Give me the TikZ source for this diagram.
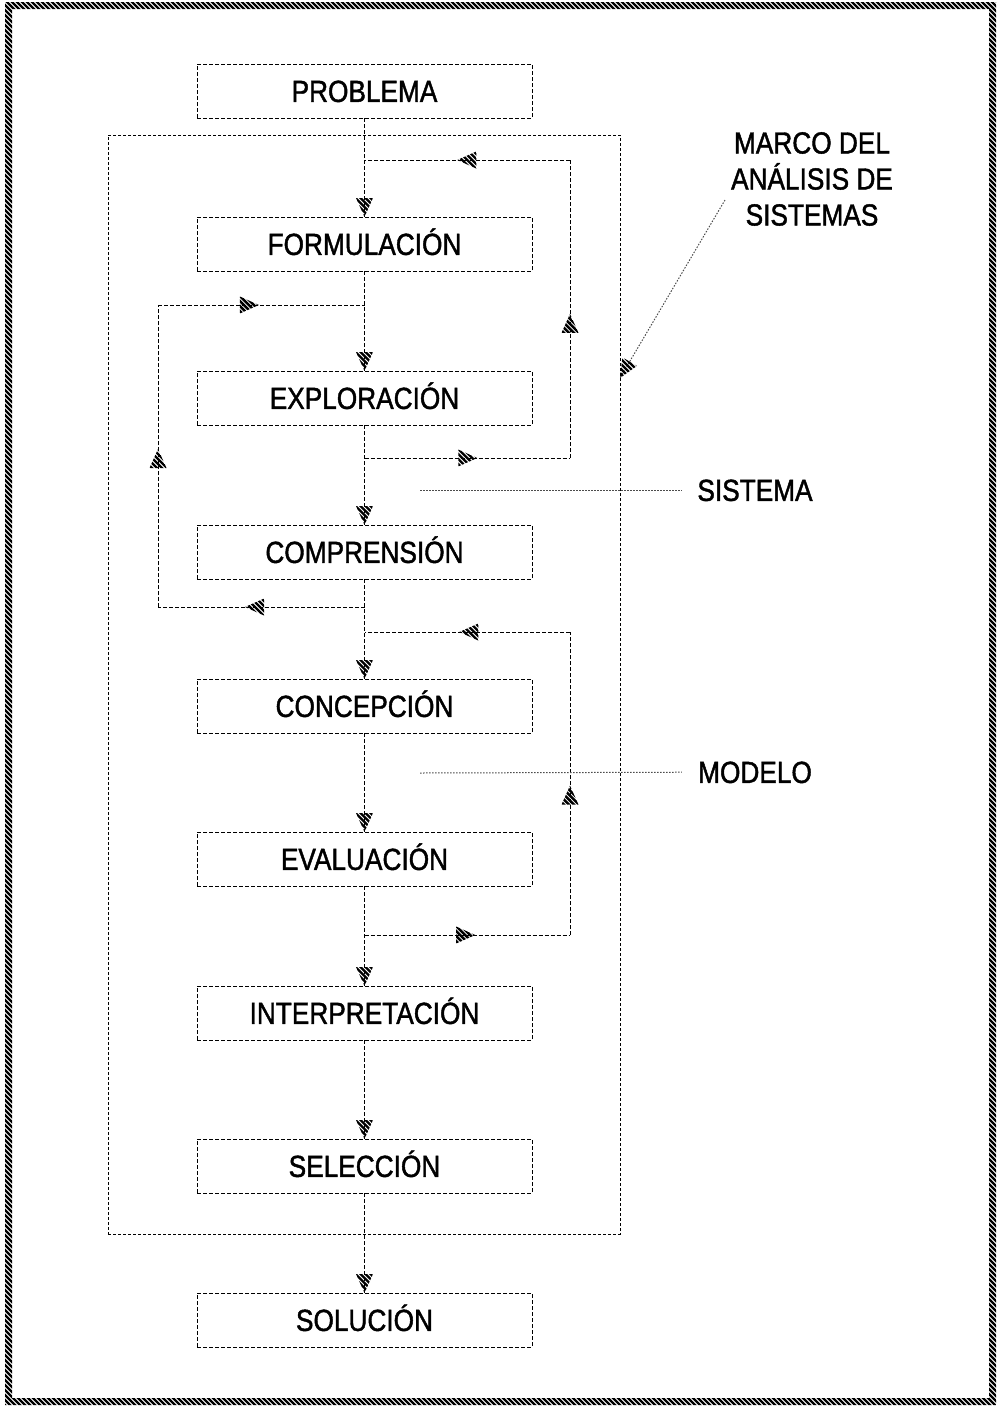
\documentclass[tikz,border=0pt]{standalone}
\usepackage{fontspec}
\setmainfont{Liberation Sans}[FakeStretch=0.86,FakeBold=1.4]
\usetikzlibrary{decorations.markings,calc}
\newcommand{\hatchtri}[1]{%
  \begin{scope}[solid, black]
    \clip #1;
    \pgftransformresetnontranslations
    \foreach \t in {-30,-25,...,30} \draw[solid, black, line width=2.4pt] (\t-20,-20) -- (\t+20,20);
  \end{scope}}
\tikzset{
  midhatch/.style={postaction={decorate}, decoration={markings, mark=at position #1 with {\hatchtri{(10,0) -- (-9,8.5) -- (-9,-8.5) -- cycle}}}},
  midhatch/.default=0.5,
  endhatch/.style={postaction={decorate}, decoration={markings, mark=at position 1 with {\hatchtri{(0,0) -- (-19,8.5) -- (-19,-8.5) -- cycle}}}},
  stepbox/.style={draw, line width=1pt, dash pattern=on 4pt off 2pt, minimum width=335pt, minimum height=54pt, inner sep=0pt, outer sep=0pt, text height=21.8pt, text depth=0pt, font=\fontsize{30.5}{36}\selectfont},
  framebox/.style={draw, line width=1pt, dash pattern=on 3pt off 2pt, minimum width=512pt, minimum height=1099pt, inner sep=0pt, outer sep=0pt},
  conn/.style={line width=1pt, dash pattern=on 4pt off 2pt},
  dotline/.style={line width=1pt, gray!60!black, dash pattern=on 1.5pt off 1.5pt},
  lbl/.style={font=\fontsize{30.5}{36}\selectfont, align=center, inner sep=0pt}
}
\begin{document}
\begin{tikzpicture}[x=1pt,y=-1pt]
\useasboundingbox (0,0) rectangle (997,1406);
% border
\begin{scope}[even odd rule]
  \clip (5,2) rectangle (996,1405) (12,9) rectangle (989,1398);
  \foreach \t in {-1410,-1405,...,1000} \draw[line width=2.2pt] (\t,0) -- (\t+1406,1406);
\end{scope}
% frame
\node[framebox] (marco) at (364,684.5) {};
% boxes
\node[stepbox] (p) at (364.5,91) {PROBLEMA};
\node[stepbox] (f) at (364.5,244) {FORMULACIÓN};
\node[stepbox] (e) at (364.5,398) {EXPLORACIÓN};
\node[stepbox] (c) at (364.5,552) {COMPRENSIÓN};
\node[stepbox] (k) at (364.5,706) {CONCEPCIÓN};
\node[stepbox] (v) at (364.5,859) {EVALUACIÓN};
\node[stepbox] (i) at (364.5,1013) {INTERPRETACIÓN};
\node[stepbox] (s) at (364.5,1166) {SELECCIÓN};
\node[stepbox] (o) at (364.5,1320) {SOLUCIÓN};
% main flow
\draw[conn,endhatch] (p) -- (f);
\draw[conn,endhatch] (f) -- (e);
\draw[conn,endhatch] (e) -- (c);
\draw[conn,endhatch] (c) -- (k);
\draw[conn,endhatch] (k) -- (v);
\draw[conn,endhatch] (v) -- (i);
\draw[conn,endhatch] (i) -- (s);
\draw[conn,endhatch] (s) -- (o);
% loop 1
\coordinate (j1a) at (364.5,160);
\coordinate (j1b) at (570,160);
\coordinate (j1c) at (570,458);
\coordinate (j1d) at (364.5,458);
\draw[conn,midhatch=0.5] (j1d) -- (j1c);
\draw[conn,midhatch=0.45] (j1c) -- (j1b);
\draw[conn,midhatch=0.5] (j1b) -- (j1a);
% loop 2
\coordinate (j2a) at (364.5,305);
\coordinate (j2b) at (158,305);
\coordinate (j2c) at (158,607);
\coordinate (j2d) at (364.5,607);
\draw[conn,midhatch=0.53] (j2d) -- (j2c);
\draw[conn,midhatch=0.49] (j2c) -- (j2b);
\draw[conn,midhatch=0.44] (j2b) -- (j2a);
% loop 3
\coordinate (j3a) at (364.5,632);
\coordinate (j3b) at (570,632);
\coordinate (j3c) at (570,935);
\coordinate (j3d) at (364.5,935);
\draw[conn,midhatch=0.49] (j3d) -- (j3c);
\draw[conn,midhatch=0.46] (j3c) -- (j3b);
\draw[conn,midhatch=0.49] (j3b) -- (j3a);
% labels
\node[lbl] (ml) at (812,179) {MARCO DEL\\ANÁLISIS DE\\SISTEMAS};
\coordinate (m0) at (725,200);
\coordinate (mt) at (620,378);
\draw[dotline,endhatch] (m0) -- (mt);
\node[lbl, inner xsep=15pt, text height=21.8pt, text depth=0pt] (sis) at (755,490) {SISTEMA};
\coordinate (s0) at (420,490);
\draw[dotline] (s0) -- (sis);
\node[lbl, inner xsep=16pt, text height=21.8pt, text depth=0pt] (mod) at (755,772) {MODELO};
\coordinate (d0) at (420,773);
\draw[dotline] (d0) -- (mod);
\end{tikzpicture}
\end{document}
